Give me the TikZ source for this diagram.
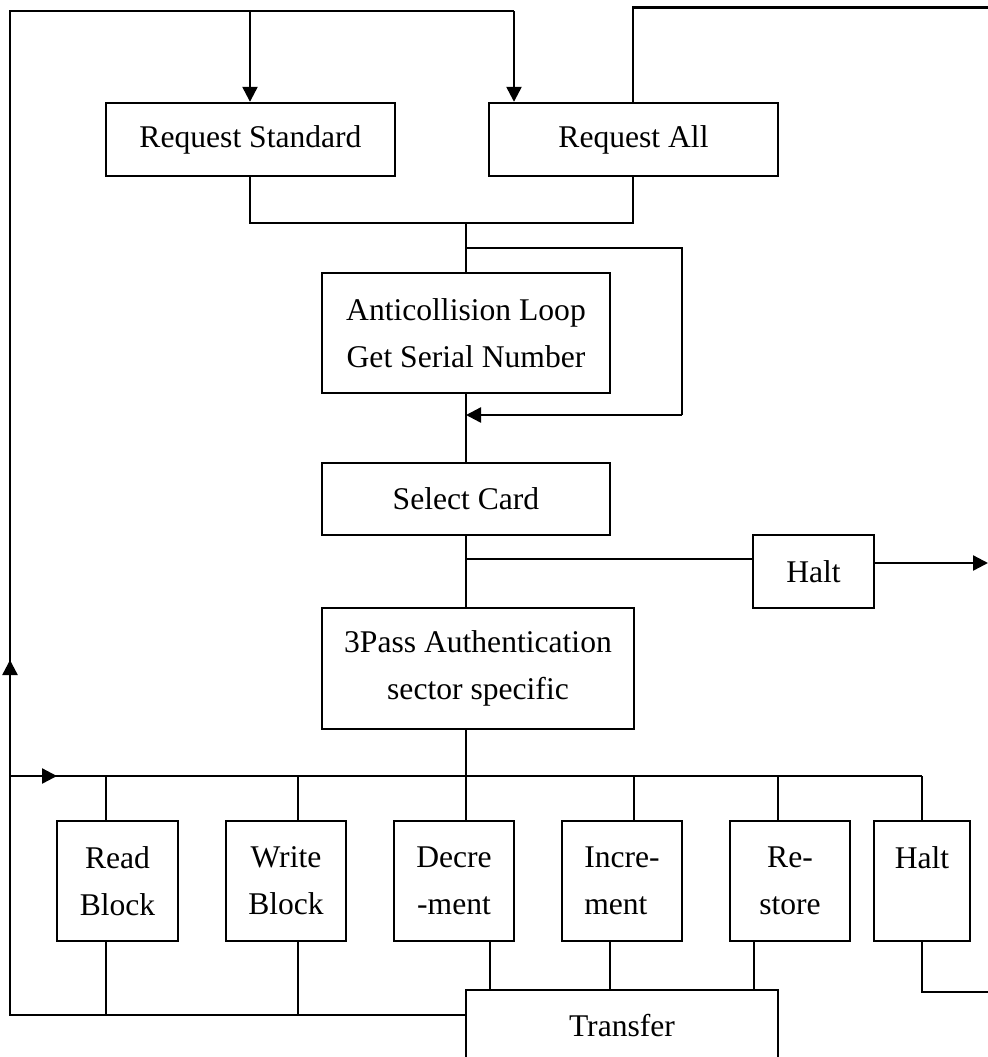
\documentclass[tikz,border=0pt]{standalone}
\usepackage{fontspec}
\setmainfont{Liberation Serif}
\usetikzlibrary{arrows.meta,calc}
\tikzset{
  box/.style={draw, rectangle, inner sep=0pt, align=center, font=\fontsize{15.8}{23.5}\selectfont},
  wh/.style 2 args={minimum width={#1*0.5pt}, minimum height={#2*0.5pt}},
  arr/.style={-{Triangle[length=7.5pt,width=7.5pt]}}
}
\begin{document}
\begin{tikzpicture}[x=0.5pt,y=-0.5pt,line width=1.2pt]
\useasboundingbox (0,0) rectangle (988,1057);
\clip (0,0) rectangle (988,1057);
\fill[white] (0,0) rectangle (988,1057);

% nodes
\node[box,wh={289}{73}] (rs) at (250.5,139.5) {Request Standard};
\node[box,wh={289}{73}] (ra) at (633.5,139.5) {Request All};
\node[box,wh={288}{120}] (ac) at (466,333) {Anticollision Loop\\Get Serial Number};
\node[box,wh={288}{72}] (sc) at (466,499) {Select Card};
\node[box,wh={121}{73}] (h1) at (813.5,571.5) {Halt};
\node[box,wh={312}{121}] (pa) at (478,668.5) {3Pass Authentication\\sector specific};
\node[box,wh={121}{120}] (rb) at (117.5,881) {Read\\Block};
\node[box,wh={120}{120}] (wb) at (286,881) {Write\\Block};
\node[box,wh={120}{120}] (de) at (454,881) {Decre\\-ment};
\node[box,wh={120}{120},align=left] (inc) at (622,881) {Incre-\\ment};
\node[box,wh={120}{120}] (re) at (790,881) {Re-\\store};
\node[box,wh={96}{120}] (h2) at (922,881) {Halt\\\mbox{}};
\node[box,wh={312}{72}] (tr) at (622,1026) {Transfer};

% coordinates
\coordinate (trl) at (466,1015);
\coordinate (lb) at (10,1015);
\coordinate (lt) at (10,11);
\coordinate (rsin) at (250,11);
\coordinate (rain) at (514,11);
\coordinate (raout) at (633,7.5);
\coordinate (rtop) at (995,7.5);
\coordinate (jn) at (466,223);
\coordinate (lp1) at (466,248);
\coordinate (lp2) at (682,248);
\coordinate (lp3) at (682,415);
\coordinate (lp4) at (466,415);
\coordinate (hb) at (466,559);
\coordinate (bus) at (466,776);
\coordinate (busl) at (10,776);
\coordinate (busr) at (922,776);
\coordinate (h1out) at (988,563);
\coordinate (h2out) at (995,992);

% main feedback loop (left)
\draw (trl) -- (lb) -- (lt) -- (rain);
\draw[arr] (rain) -- (rain |- ra.north);
\draw[arr] (rsin) -- (rsin |- rs.north);
\draw[arr] (10,692) -- (10,660);

% right loop into Request All
\draw (633,0 |- ra.north) -- (raout) -- (rtop);

% request joins
\draw (rsin |- rs.south) -- (250,223) -- (633,223) -- (633,0 |- ra.south);
\draw (jn) -- (ac.north);

% anticollision loop
\draw (lp1) -- (lp2) -- (lp3);
\draw[arr] (lp3) -- (lp4);
\draw (ac.south) -- (sc.north);

% select card to halt and auth
\draw (sc.south) -- (pa.north -| sc.south);
\draw (hb) -- (h1.west |- hb);
\draw[arr] (874,563) -- (h1out);

% auth to bus
\draw (bus |- pa.south) -- (bus);
\draw (busl) -- (busr);
\draw[arr] (busl) -- (57,776);

% bus to boxes
\draw (106,776) -- (106,0 |- rb.north);
\draw (298,776) -- (298,0 |- wb.north);
\draw (466,776) -- (466,0 |- de.north);
\draw (634,776) -- (634,0 |- inc.north);
\draw (778,776) -- (778,0 |- re.north);
\draw (busr) -- (922,0 |- h2.north);

% boxes to transfer / loop
\draw (106,0 |- rb.south) -- (106,1015);
\draw (298,0 |- wb.south) -- (298,1015);
\draw (490,0 |- de.south) -- (490,0 |- tr.north);
\draw (610,0 |- inc.south) -- (610,0 |- tr.north);
\draw (754,0 |- re.south) -- (754,0 |- tr.north);
\draw (h2.south) -- (922,992) -- (h2out);
\end{tikzpicture}
\end{document}
